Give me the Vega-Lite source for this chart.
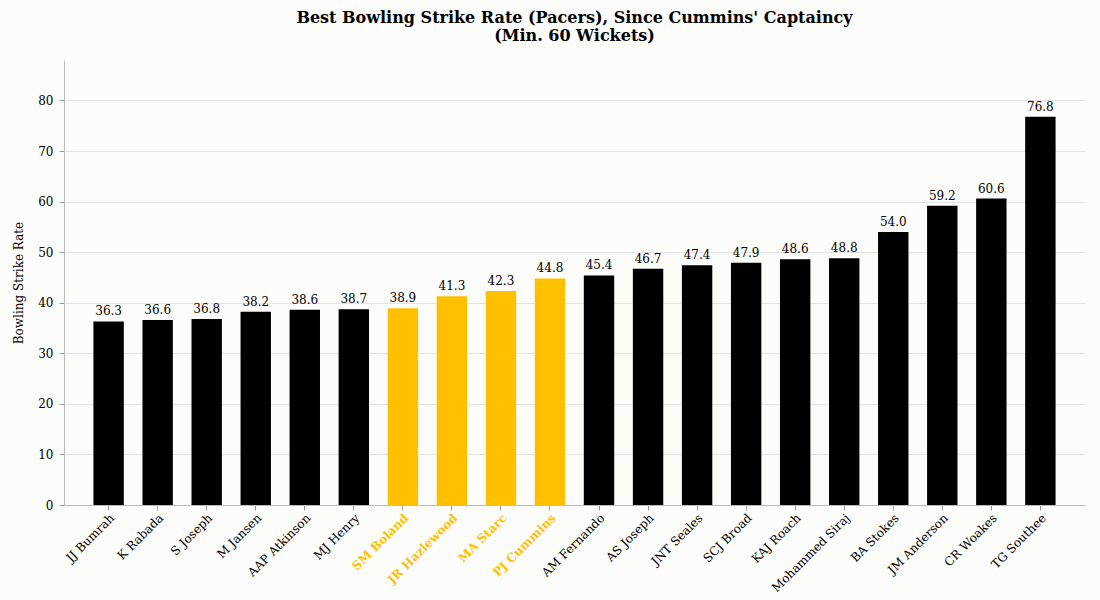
{
"$schema":"https://vega.github.io/schema/vega-lite/v6.json",
"width":1100,"height":600,
"autosize":{"type":"fit","contains":"padding"},
"padding":{"left":12,"top":10,"right":15,"bottom":6},
"background":"#fcfcfa",
"title":{"text":["Best Bowling Strike Rate (Pacers), Since Cummins' Captaincy","(Min. 60 Wickets)"],"font":"DejaVu Serif","fontSize":16,"fontWeight":"bold","color":"black","offset":16},
"config":{"view":{"stroke":null},"font":"DejaVu Serif"},
"data":{"values":[
{"p":"JJ Bumrah","v":36.3,"h":0},{"p":"K Rabada","v":36.6,"h":0},{"p":"S Joseph","v":36.8,"h":0},{"p":"M Jansen","v":38.2,"h":0},{"p":"AAP Atkinson","v":38.6,"h":0},{"p":"MJ Henry","v":38.7,"h":0},{"p":"SM Boland","v":38.9,"h":1},{"p":"JR Hazlewood","v":41.3,"h":1},{"p":"MA Starc","v":42.3,"h":1},{"p":"PJ Cummins","v":44.8,"h":1},{"p":"AM Fernando","v":45.4,"h":0},{"p":"AS Joseph","v":46.7,"h":0},{"p":"JNT Seales","v":47.4,"h":0},{"p":"SCJ Broad","v":47.9,"h":0},{"p":"KAJ Roach","v":48.6,"h":0},{"p":"Mohammed Siraj","v":48.8,"h":0},{"p":"BA Stokes","v":54.0,"h":0},{"p":"JM Anderson","v":59.2,"h":0},{"p":"CR Woakes","v":60.6,"h":0},{"p":"TG Southee","v":76.8,"h":0}
]},
"encoding":{
"x":{"field":"p","type":"nominal","sort":null,"title":null,"scale":{"paddingInner":0.38,"paddingOuter":0.6},
"axis":{"labelAngle":-45,"labelFontSize":12,"domainColor":"#bbb","tickColor":"#999","labelColor":{"condition":{"test":"indexof(['SM Boland','JR Hazlewood','MA Starc','PJ Cummins'],datum.value)>=0","value":"#FFC000"},"value":"black"},"labelFontWeight":{"condition":{"test":"indexof(['SM Boland','JR Hazlewood','MA Starc','PJ Cummins'],datum.value)>=0","value":"bold"},"value":"normal"}}},
"y":{"field":"v","type":"quantitative","title":"Bowling Strike Rate","scale":{"domain":[0,88],"nice":false},
"axis":{"values":[0,10,20,30,40,50,60,70,80],"labelFontSize":12,"titleFontSize":12,"titleFontWeight":"normal","titlePadding":12,"labelPadding":6,"gridColor":"#e3e3e3","domainColor":"#bbb","tickColor":"#999","labelColor":"black","titleColor":"black"}}
},
"layer":[
{"mark":{"type":"bar"},"encoding":{"color":{"field":"h","type":"nominal","scale":{"domain":[0,1],"range":["#000000","#FFC000"]},"legend":null}}},
{"mark":{"type":"text","dy":-10,"fontSize":12,"color":"black"},"encoding":{"text":{"field":"v","type":"quantitative","format":".1f"}}}
]
}
